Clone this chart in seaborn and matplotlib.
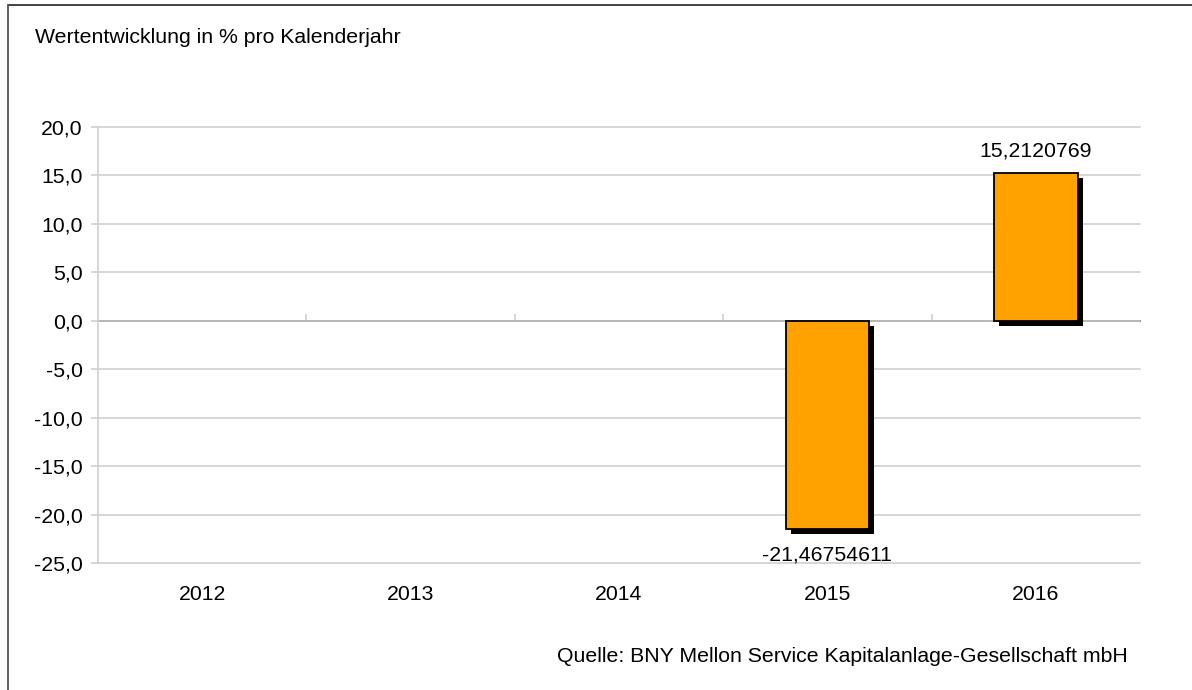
import numpy as np
import pandas as pd
import matplotlib
matplotlib.use("Agg")
import matplotlib.pyplot as plt
import matplotlib.patheffects as pe
from matplotlib.lines import Line2D
import seaborn as sns

# data
years = ["2012", "2013", "2014", "2015", "2016"]
returns = [np.nan, np.nan, np.nan, -21.46754611, 15.2120769]
labels = ["", "", "", "-21,46754611", "15,2120769"]

df = pd.DataFrame({"year": years, "ret": returns})

sns.set_theme(style="white")
plt.rcParams["font.family"] = ["Liberation Sans", "DejaVu Sans"]
plt.rcParams["text.color"] = "black"

FS = 15.3
GRID = "#d0d0d0"

fig = plt.figure(figsize=(11.92, 6.90), dpi=100)
ax = fig.add_axes([0.0822, 0.184, 0.8742, 0.632])

sns.barplot(data=df, x="year", y="ret", order=years, color="#FFA200",
            width=0.4, edgecolor="black", linewidth=1.3, saturation=1,
            errorbar=None, ax=ax)

for bar in ax.patches:
    bar.set_zorder(3)
    bar.set_path_effects([pe.SimplePatchShadow(offset=(3.6, -3.6),
                                               shadow_rgbFace="black", alpha=1),
                          pe.Normal()])

ax.set_ylim(-25, 20)
ax.set_xlim(-0.5, 4.5)
ax.set_yticks(np.arange(-25, 21, 5))
ax.set_yticklabels([f"{v:.1f}".replace(".", ",") for v in np.arange(-25, 21, 5)])
ax.yaxis.grid(True, color=GRID, linewidth=1.2)
for gl in ax.get_ygridlines():
    gl.set_clip_on(False)
ax.set_axisbelow(True)
ax.set_xlabel("")
ax.set_ylabel("")

for s in ["top", "right", "bottom"]:
    ax.spines[s].set_visible(False)
ax.spines["left"].set_color(GRID)
ax.spines["left"].set_linewidth(1.2)

ax.tick_params(axis="y", left=True, length=5, color=GRID, labelsize=FS, pad=6,
               labelcolor="black")
ax.tick_params(axis="x", bottom=False, labelsize=FS, pad=10, labelcolor="black")

# small tick marks on the zero line between categories
zero_frac = 25 / 45
sec = ax.secondary_xaxis(zero_frac)
sec.set_xticks([0.5, 1.5, 2.5, 3.5])
sec.set_xticklabels([])
sec.tick_params(length=5, color=GRID, direction="out")
sec.spines["bottom"].set_color(GRID)
sec.spines["bottom"].set_linewidth(1.2)

# value labels
for i, (v, lab) in enumerate(zip(returns, labels)):
    if np.isnan(v):
        continue
    if v >= 0:
        ax.annotate(lab, (i, v), xytext=(0, 9), textcoords="offset points",
                    ha="center", va="bottom", fontsize=FS, color="black")
    else:
        ax.annotate(lab, (i, v), xytext=(0, -12), textcoords="offset points",
                    ha="center", va="top", fontsize=FS, color="black")

fig.text(0.029, 0.946, "Wertentwicklung in % pro Kalenderjahr",
         ha="left", va="center", fontsize=FS, color="black")
fig.text(0.946, 0.049, "Quelle: BNY Mellon Service Kapitalanlage-Gesellschaft mbH",
         ha="right", va="center", fontsize=FS, color="black")

# outer frame (top and left edges)
fig.add_artist(Line2D([0.0065, 1.0], [0.993, 0.993], color="#333333", linewidth=1.3,
                      transform=fig.transFigure))
fig.add_artist(Line2D([0.0065, 0.0065], [0.0, 0.993], color="#555555", linewidth=1.3,
                      transform=fig.transFigure))

fig.savefig("out.png", dpi=100)
